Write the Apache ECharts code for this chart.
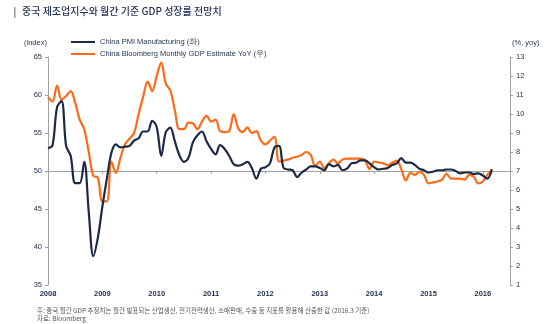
<!DOCTYPE html>
<html><head><meta charset="utf-8">
<script src="https://cdn.jsdelivr.net/npm/echarts@6/dist/echarts.min.js"></script>
<style>html,body{margin:0;padding:0;background:#fff}#c{width:545px;height:324px}</style>
</head><body><div id="c"></div>
<script>
// Monthly categories Jan 2008 .. Jul 2016 (data through Mar 2016)
const months = [];
for (let y = 2008; y <= 2016; y++) for (let m = 1; m <= 12; m++) { if (y === 2016 && m > 7) break; months.push(y + '-' + (m < 10 ? '0' + m : m)); }

// China PMI Manufacturing (index, left axis)
const pmi = [
 53.0, 53.4, 58.4, 59.2, 53.3, 52.0, 48.4, 48.4, 51.2, 44.6, 38.8, 41.2,
 45.3, 49.0, 52.4, 53.5, 53.1, 53.2, 53.3, 54.0, 54.3, 55.2, 55.2, 56.6,
 55.8, 52.0, 55.1, 55.7, 53.9, 52.1, 51.2, 51.7, 53.8, 54.7, 55.2, 53.9,
 52.9, 52.2, 53.4, 52.9, 52.0, 50.9, 50.7, 50.9, 51.2, 50.4, 49.0, 50.3,
 50.5, 51.0, 53.1, 53.3, 50.4, 50.2, 50.1, 49.2, 49.8, 50.2, 50.6, 50.6,
 50.4, 50.1, 50.9, 50.6, 50.8, 50.1, 50.3, 51.0, 51.1, 51.4, 51.4, 51.0,
 50.5, 50.2, 50.3, 50.4, 50.8, 51.0, 51.7, 51.1, 51.1, 50.8, 50.3, 50.1,
 49.8, 49.9, 50.1, 50.1, 50.2, 50.2, 50.0, 49.7, 49.8, 49.8, 49.6, 49.7,
 49.4, 49.0, 50.2
];

// China Bloomberg Monthly GDP Estimate YoY (%, right axis)
const gdp = [
 10.9, 10.65, 11.5, 10.75, 10.95, 11.2, 10.6, 9.7, 9.2, 8.0, 6.75, 6.65,
 5.4, 5.4, 7.5, 6.9, 7.7, 8.4, 8.7, 9.0, 10.0, 10.9, 11.7, 11.2,
 12.0, 12.7, 11.6, 11.25, 10.2, 9.2, 9.2, 9.55, 9.5, 9.2, 9.6, 9.9,
 9.6, 9.7, 9.1, 9.05, 9.1, 10.0, 9.25, 9.05, 9.3, 9.0, 9.1, 8.6,
 8.4, 8.6, 8.8, 7.5, 7.55, 7.6, 7.7, 7.75, 7.85, 8.0, 7.85, 7.25,
 7.5, 7.15, 7.4, 7.6, 7.4, 7.6, 7.65, 7.65, 7.65, 7.65, 7.55, 7.1,
 7.5, 7.45, 7.4, 7.3, 7.45, 7.55, 7.1, 6.5, 6.9, 6.8, 6.95, 6.8,
 6.35, 6.4, 6.45, 6.55, 6.85, 6.6, 6.6, 6.6, 6.55, 6.8, 6.7, 6.35,
 6.45, 6.8, 7.1
];

const leftTicks = [35, 65, 5];   // min, max, interval
const rightTicks = [1, 13, 1];

const txt = '#1f2d4a';
const axisGray = '#a0a0a0';
const chart = echarts.init(document.getElementById('c'));
chart.setOption({
  animation: false,
  backgroundColor: '#fff',
  grid: { left: 48, right: 35, top: 57, bottom: 39 },
  legend: {
    orient: 'vertical', left: 66, top: 33, itemGap: 4,
    itemWidth: 24, itemHeight: 2, icon: 'rect',
    textStyle: { fontSize: 7.5, color: '#1f2d4a', fontFamily: 'Liberation Sans' },
    data: ['China PMI Manufacturing (좌)', 'China Bloomberg Monthly GDP Estimate YoY (우)']
  },
  xAxis: [{
    type: 'category', data: months, boundaryGap: false, position: 'bottom', offset: -114,
    axisLine: { show: true, lineStyle: { color: axisGray, width: 1 } },
    axisTick: { show: true, length: 3, interval: (i) => i % 12 === 0, lineStyle: { color: axisGray } },
    axisLabel: { show: false }, splitLine: { show: false }
  }, {
    type: 'category', data: months, boundaryGap: false, position: 'bottom', offset: 0,
    axisLine: { show: false }, axisTick: { show: false },
    axisLabel: { show: true, interval: (i) => i % 12 === 0, formatter: (v) => v.slice(0, 4),
      fontSize: 7.5, fontWeight: 'bold', color: txt, fontFamily: 'Liberation Sans', margin: 5 }
  }],
  yAxis: [{
    type: 'value', min: leftTicks[0], max: leftTicks[1], interval: leftTicks[2], position: 'left',
    axisLine: { show: true, lineStyle: { color: axisGray } },
    axisTick: { show: true, length: 3, lineStyle: { color: axisGray } },
    axisLabel: { fontSize: 7.5, color: txt, fontFamily: 'Liberation Sans', margin: 6 },
    splitLine: { show: false }
  }, {
    type: 'value', min: rightTicks[0], max: rightTicks[1], interval: rightTicks[2], position: 'right',
    axisLine: { show: true, lineStyle: { color: axisGray } },
    axisTick: { show: true, length: 3, lineStyle: { color: axisGray } },
    axisLabel: { fontSize: 7.5, color: txt, fontFamily: 'Liberation Sans', margin: 6 },
    splitLine: { show: false }
  }],
  series: [{
    name: 'China PMI Manufacturing (좌)', type: 'line', xAxisIndex: 0, yAxisIndex: 0,
    data: pmi, smooth: 0.35, showSymbol: false, symbol: 'none',
    lineStyle: { color: '#1b2a44', width: 2.2 }, itemStyle: { color: '#1b2a44' }, z: 3
  }, {
    name: 'China Bloomberg Monthly GDP Estimate YoY (우)', type: 'line', xAxisIndex: 0, yAxisIndex: 1,
    data: gdp, smooth: 0.35, showSymbol: false, symbol: 'none',
    lineStyle: { color: '#ff6a17', width: 2.2 }, itemStyle: { color: '#ff6a17' }, z: 2
  }],
  graphic: [
    { type: 'rect', left: 14, top: 7, shape: { width: 1.5, height: 11 }, style: { fill: '#9a9a9a' } },
    { type: 'text', left: 22, top: 6, style: { text: '중국 제조업지수와 월간 기준 GDP 성장률 전망치', fontSize: 10, fontWeight: 500, fill: '#22335a', fontFamily: 'Noto Sans CJK KR' } },
    { type: 'text', left: 24, top: 39, style: { text: '(index)', fontSize: 7.5, fill: txt, fontFamily: 'Liberation Sans' } },
    { type: 'text', left: 512, top: 39, style: { text: '(%, yoy)', fontSize: 7.5, fill: txt, fontFamily: 'Liberation Sans' } },
    { type: 'text', left: 37, top: 307, style: { text: '주: 중국 월간 GDP 추정치는 월간 발표되는 산업생산, 전기전력생산, 소매판매, 수출 등 지표를 활용해 산출한 값 (2016.3 기준)', fontSize: 6.5, fill: '#555', fontFamily: 'Noto Sans CJK KR' } },
    { type: 'text', left: 37, top: 315, style: { text: '자료: Bloomberg', fontSize: 6.5, fill: '#555', fontFamily: 'Noto Sans CJK KR' } }
  ]
});
</script></body></html>
